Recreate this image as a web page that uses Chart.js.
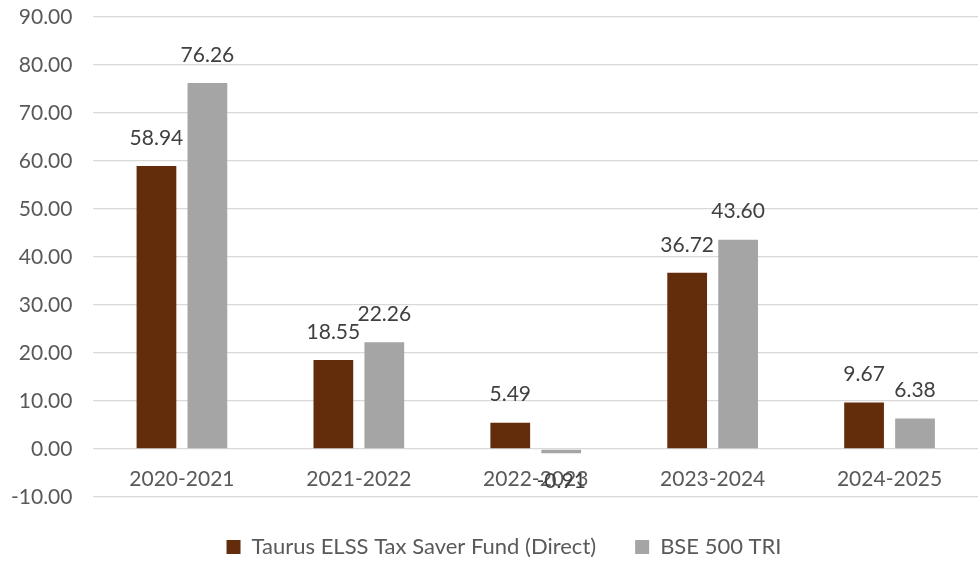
<!DOCTYPE html>
<html>
<head>
<meta charset="utf-8">
<script src="https://cdn.jsdelivr.net/npm/chart.js@4.4.0/dist/chart.umd.min.js"></script>
<style>
  html, body { margin: 0; padding: 0; background: #fff; }
  #wrap { width: 978px; height: 561px; position: relative; }
</style>
</head>
<body>
<div id="wrap"><canvas id="chart"></canvas></div>
<script>
// data
const years = ["2020-2021", "2021-2022", "2022-2023", "2023-2024", "2024-2025"];
const fundReturns = [58.94, 18.55, 5.49, 36.72, 9.67];
const indexReturns = [76.26, 22.26, -0.91, 43.60, 6.38];
const seriesNames = ["Taurus ELSS Tax Saver Fund (Direct)", "BSE 500 TRI"];

const FONT = "Lato, 'Open Sans', sans-serif";

// value labels above (or below, for negatives) each bar
const valueLabels = {
  id: "valueLabels",
  afterDatasetsDraw(chart) {
    const ctx = chart.ctx;
    ctx.save();
    ctx.font = "21px " + FONT;
    ctx.fillStyle = "#404040";
    ctx.textAlign = "center";
    ctx.textBaseline = "middle";
    chart.data.datasets.forEach((ds, i) => {
      chart.getDatasetMeta(i).data.forEach((bar, j) => {
        const v = ds.data[j];
        const y = v >= 0 ? bar.y - 28 : bar.y + 28;
        ctx.fillText(v.toFixed(2), bar.x, y);
      });
    });
    ctx.restore();
  }
};

// legend sits a bit right of the canvas centre in the original
const legendShift = {
  id: "legendShift",
  afterLayout(chart) {
    if (chart.legend) {
      chart.legend.left += 20;
      chart.legend.right += 20;
    }
  }
};

new Chart(document.getElementById("chart"), {
  type: "bar",
  data: {
    labels: years,
    datasets: [
      { label: seriesNames[0], data: fundReturns, backgroundColor: "#632C0A" },
      { label: seriesNames[1], data: indexReturns, backgroundColor: "#A5A5A5" }
    ]
  },
  options: {
    responsive: true,
    maintainAspectRatio: false,
    animation: false,
    layout: { padding: { top: 0, right: 0, left: -10, bottom: -7 } },
    datasets: { bar: { categoryPercentage: 0.576, barPercentage: 0.78 } },
    scales: {
      x: {
        position: { y: 0 },
        grid: { display: false, drawTicks: false },
        border: { display: false },
        ticks: { color: "#595959", font: { family: FONT, size: 21 }, padding: 18 }
      },
      y: {
        min: -10,
        max: 90,
        grid: { color: "#D9D9D9", lineWidth: 1.3, drawTicks: false },
        border: { display: false },
        ticks: {
          stepSize: 10,
          color: "#595959",
          font: { family: FONT, size: 21 },
          padding: 21,
          callback: (v) => v.toFixed(2)
        },
        afterFit: (axis) => { axis.paddingTop = 17; }
      }
    },
    plugins: {
      tooltip: { enabled: false },
      legend: {
        position: "bottom",
        labels: {
          color: "#595959",
          font: { family: FONT, size: 22 },
          boxWidth: 14,
          boxHeight: 14,
          padding: 39
        }
      }
    }
  },
  plugins: [valueLabels, legendShift]
});
</script>
</body>
</html>
